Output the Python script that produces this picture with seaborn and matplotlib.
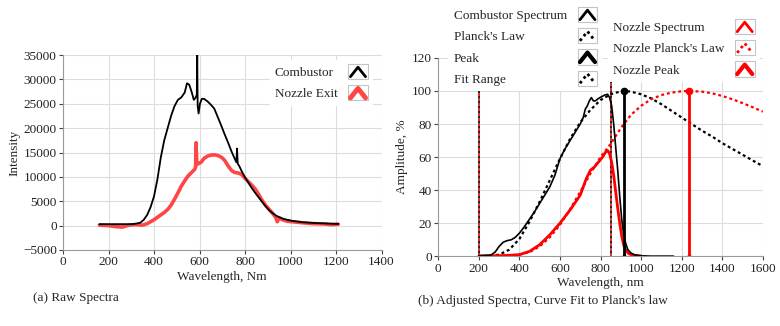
import pandas as pd
import matplotlib
matplotlib.use("Agg")
import matplotlib.pyplot as plt
import seaborn as sns
from matplotlib.lines import Line2D
from matplotlib.patches import Rectangle
from matplotlib.legend_handler import HandlerBase

# --- data: (a) raw spectra ---
raw_comb_wl = [160, 200, 250, 300, 320, 340, 355, 370, 385, 400, 415, 430, 445, 460, 475, 490,
               505, 520, 535, 545, 555, 565, 575, 582, 588, 590, 592, 596, 602, 610, 620, 635,
               650, 665, 680, 695, 710, 725, 740, 755, 762, 765, 768, 775, 785, 800, 815, 830,
               845, 860, 875, 890, 905, 920, 935, 950, 965, 985, 1005, 1050, 1100, 1150, 1210]
raw_comb = [300, 300, 300, 300, 400, 600, 1200, 2200, 3800, 6000, 9500, 14000, 17500, 20000, 22500, 24500,
            25800, 26300, 27300, 29200, 28900, 27500, 25800, 26200, 26800, 35000, 24500, 23000, 25000, 26000, 26000, 25500,
            24800, 24000, 22300, 20600, 18800, 17100, 15300, 13700, 13000, 15800, 12700, 12200, 11200, 9900, 8800, 7700,
            6700, 5800, 4900, 4000, 3200, 2600, 2100, 1750, 1450, 1200, 1000, 700, 550, 450, 350]

raw_noz_wl = [160, 200, 230, 260, 290, 320, 350, 370, 385, 400, 415, 430, 445, 460, 475, 490,
              505, 520, 535, 550, 565, 578, 583, 585, 588, 595, 607, 620, 637, 655, 670, 685,
              700, 712, 725, 741, 755, 770, 785, 800, 815, 830, 845, 860, 875, 890, 905, 920,
              935, 942, 950, 965, 985, 1007, 1050, 1100, 1150, 1180, 1210]
raw_noz = [100, 0, -200, -300, 100, 200, 100, 400, 800, 1200, 1700, 2200, 2700, 3300, 4200, 5400,
           6700, 8100, 9200, 10200, 10900, 11500, 12000, 17000, 12600, 12700, 13000, 13800, 14300, 14500, 14500, 14300,
           13900, 13300, 12300, 11300, 10900, 10800, 10500, 9700, 9000, 8300, 7500, 6400, 5200, 4200, 3400, 2600,
           1700, 800, 1600, 1200, 900, 800, 600, 400, 350, 200, 300]

# --- data: (b) adjusted spectra ---
comb_wl = [200, 230, 260, 280, 300, 320, 340, 360, 380, 400, 425, 450, 475, 500, 525, 550, 575, 600,
           625, 650, 675, 700, 715, 725, 735, 745, 755, 765, 775, 790, 805, 820, 835, 845, 855, 865,
           875, 885, 895, 905, 915, 925, 935, 950, 970, 1000, 1050, 1160]
comb_amp = [0.3, 0.5, 0.8, 2.5, 6, 8.5, 9.5, 10, 11.5, 14, 18, 22.5, 27, 32, 37, 42, 49, 59,
            65, 70, 75, 80, 84, 89, 91, 94, 96, 94, 94, 95.5, 96.5, 97.5, 98, 96, 91, 80,
            66, 52, 36, 22, 13, 7.5, 4, 2, 0.8, 0.3, 0.1, 0.1]

planck_wl = [200, 250, 300, 350, 400, 450, 500, 550, 600, 650, 700, 750, 800, 850, 900, 918, 950,
             1000, 1050, 1100, 1150, 1200, 1250, 1300, 1350, 1400, 1450, 1500, 1550, 1600]
planck_amp = [0, 0.2, 1, 4, 10.5, 21, 33, 46, 59, 71, 81, 88.5, 94.5, 98, 99.8, 100, 99.6,
              98, 95.5, 92, 88, 84, 80, 76, 72.5, 68.5, 65, 61.5, 58, 54.6]

noz_wl = [200, 250, 300, 350, 400, 450, 500, 550, 600, 650, 700, 715, 730, 750, 770, 790, 810,
          825, 835, 845, 855, 865, 875, 885, 895, 905, 915, 925, 940, 960, 1000]
noz_amp = [0.3, 0.3, 0.4, 0.6, 1, 3, 7, 13, 20, 28, 37, 42, 47, 52, 54, 57, 60,
           63, 64, 62, 57, 49, 39, 29, 20, 12, 6.5, 3.5, 1.5, 0.6, 0.2]

noz_planck_wl = [200, 300, 400, 450, 500, 550, 600, 650, 700, 750, 800, 850, 900, 950, 1000,
                 1050, 1100, 1150, 1200, 1237, 1300, 1350, 1400, 1450, 1500, 1550, 1600]
noz_planck_amp = [0, 0.1, 1, 2.5, 6, 11.5, 19, 28.5, 39, 50, 60, 68, 77.5, 85.5, 91,
                  95, 97.5, 99, 99.8, 100, 99.6, 98.6, 97, 95, 92.7, 90.2, 87.5]

peak_wl = [918, 1237]        # combustor, nozzle
peak_amp = [100, 100]
fit_range = [200, 850]

sns.set_theme(style="whitegrid")
plt.rcParams['font.family'] = ['Liberation Serif', 'DejaVu Serif']
plt.rcParams['font.size'] = 9.5

RED_A = '#ff4646'
RED = '#ff0000'
DOT = (0, (1.3, 1.3))


class ChevronHandler(HandlerBase):
    # little "^" icon inside a grey box, like the original legend
    def create_artists(self, legend, orig_handle, xdescent, ydescent,
                       width, height, fontsize, trans):
        x0, y0 = -xdescent, -ydescent
        box = Rectangle((x0, y0 - 0.1 * height), width, 1.2 * height, fill=False,
                        edgecolor='#c4c4c4', lw=0.8, transform=trans)
        ln = Line2D([x0 + 0.12 * width, x0 + 0.5 * width, x0 + 0.88 * width],
                    [y0 + 0.1 * height, y0 + 0.85 * height, y0 + 0.1 * height])
        ln.update_from(orig_handle)
        ln.set_transform(trans)
        return [box, ln]


def style_axes(ax):
    ax.grid(True, color='#dcdcdc', lw=0.8)
    for s in ['top', 'right']:
        ax.spines[s].set_visible(False)
    for s in ['left', 'bottom']:
        ax.spines[s].set_color('#9a9a9a')
        ax.spines[s].set_linewidth(0.8)
    ax.tick_params(direction='out', length=3, width=0.8, color='#444444',
                   labelsize=9.5, labelcolor='#222222', pad=1.5, left=True, bottom=True)


def add_legend(fig, ax, handles, labels, x, y):
    leg = ax.legend(handles, labels, loc='upper left',
                    bbox_to_anchor=(x / 780, 1 - y / 326), bbox_transform=fig.transFigure,
                    markerfirst=False, handler_map={Line2D: ChevronHandler()},
                    handlelength=1.5, handleheight=1.1, handletextpad=0.8,
                    labelspacing=0.56, borderpad=0.4, borderaxespad=0,
                    frameon=True, fancybox=False, framealpha=1, fontsize=9.5)
    leg.get_frame().set_facecolor('white')
    leg.get_frame().set_edgecolor('none')
    return leg


def left_align_labels(fig, legends):
    # text on the left, icons lined up on the right
    fig.canvas.draw()
    r = fig.canvas.get_renderer()
    for leg in legends:
        for col in leg._legend_handle_box.get_children():
            items = col.get_children()
            col.width = max(it.get_bbox(r).width for it in items)
            col.align = 'left'
            for it in items:
                it.mode = 'expand'


fig = plt.figure(figsize=(7.8, 3.26), dpi=100)
ax1 = fig.add_axes([63 / 780, 1 - 250 / 326, 318.5 / 780, 195 / 326])
ax2 = fig.add_axes([438.3 / 780, 1 - 256.3 / 326, 324.4 / 780, 198.4 / 326])

# --- (a) raw spectra ---
df_rc = pd.DataFrame({'wl': raw_comb_wl, 'val': raw_comb})
df_rn = pd.DataFrame({'wl': raw_noz_wl, 'val': raw_noz})
sns.lineplot(data=df_rn, x='wl', y='val', ax=ax1, color=RED_A, lw=2.6, estimator=None)
sns.lineplot(data=df_rc, x='wl', y='val', ax=ax1, color='black', lw=1.3, estimator=None)
ax1.set_xlim(0, 1400)
ax1.set_ylim(-5000, 35000)
ax1.set_xticks(range(0, 1401, 200))
ax1.set_yticks(range(-5000, 35001, 5000))
ax1.set_xlabel('Wavelength, Nm', fontsize=9.5, labelpad=2)
ax1.set_ylabel('Intensity', fontsize=9.5, labelpad=2)
style_axes(ax1)
leg_a = add_legend(fig, ax1,
                   [Line2D([], [], color='black', lw=2), Line2D([], [], color=RED_A, lw=3.5)],
                   ['Combustor', 'Nozzle Exit'], 269.5, 60)

# --- (b) adjusted spectra ---
for xr in fit_range:
    ax2.axvline(xr, color=RED, lw=1.2, ls=(0, (1.5, 1.5)))
    ax2.axvline(xr, color='black', lw=1.2, ls=(1.5, (1.5, 1.5)))

sns.lineplot(x=planck_wl, y=planck_amp, ax=ax2, color='black', lw=1.6, linestyle=DOT, estimator=None)
sns.lineplot(x=noz_planck_wl, y=noz_planck_amp, ax=ax2, color=RED, lw=1.6, linestyle=DOT, estimator=None)
sns.lineplot(x=noz_wl, y=noz_amp, ax=ax2, color=RED, lw=2.0, estimator=None)
sns.lineplot(x=comb_wl, y=comb_amp, ax=ax2, color='black', lw=1.2, estimator=None)

for px, py, c in zip(peak_wl, peak_amp, ['black', RED]):
    ax2.plot([px, px], [0, py], color=c, lw=2)
    ax2.plot([px], [py], marker='o', ms=4.5, color=c)
    ax2.plot([px], [0], marker='^', ms=4, color=c)

ax2.set_xlim(0, 1600)
ax2.set_ylim(0, 120)
ax2.set_xticks(range(0, 1601, 200))
ax2.set_yticks(range(0, 121, 20))
ax2.set_xlabel('Wavelength, nm', fontsize=9.5, labelpad=2)
ax2.set_ylabel('Amplitude, %', fontsize=9.5, labelpad=3)
style_axes(ax2)

leg_b1 = add_legend(fig, ax2,
                    [Line2D([], [], color='black', lw=2),
                     Line2D([], [], color='black', lw=2, ls=(0, (1, 1.2))),
                     Line2D([], [], color='black', lw=3),
                     Line2D([], [], color='black', lw=2, ls=(0, (1, 1.2)))],
                    ['Combustor Spectrum', "Planck's Law", 'Peak', 'Fit Range'], 448.5, 3)
ax2.add_artist(leg_b1)
leg_b2 = add_legend(fig, ax2,
                    [Line2D([], [], color=RED, lw=2),
                     Line2D([], [], color=RED, lw=2, ls=(0, (1, 1.2))),
                     Line2D([], [], color=RED, lw=3)],
                    ['Nozzle Spectrum', "Nozzle Planck's Law", 'Nozzle Peak'], 607.5, 15)

fig.text(33 / 780, 1 - 298 / 326, '(a) Raw Spectra', fontsize=9.5, va='center', ha='left')
fig.text(418 / 780, 1 - 301 / 326, "(b) Adjusted Spectra, Curve Fit to Planck's law",
         fontsize=9.5, va='center', ha='left')

left_align_labels(fig, [leg_a, leg_b1, leg_b2])
fig.savefig('out.png', dpi=100)
